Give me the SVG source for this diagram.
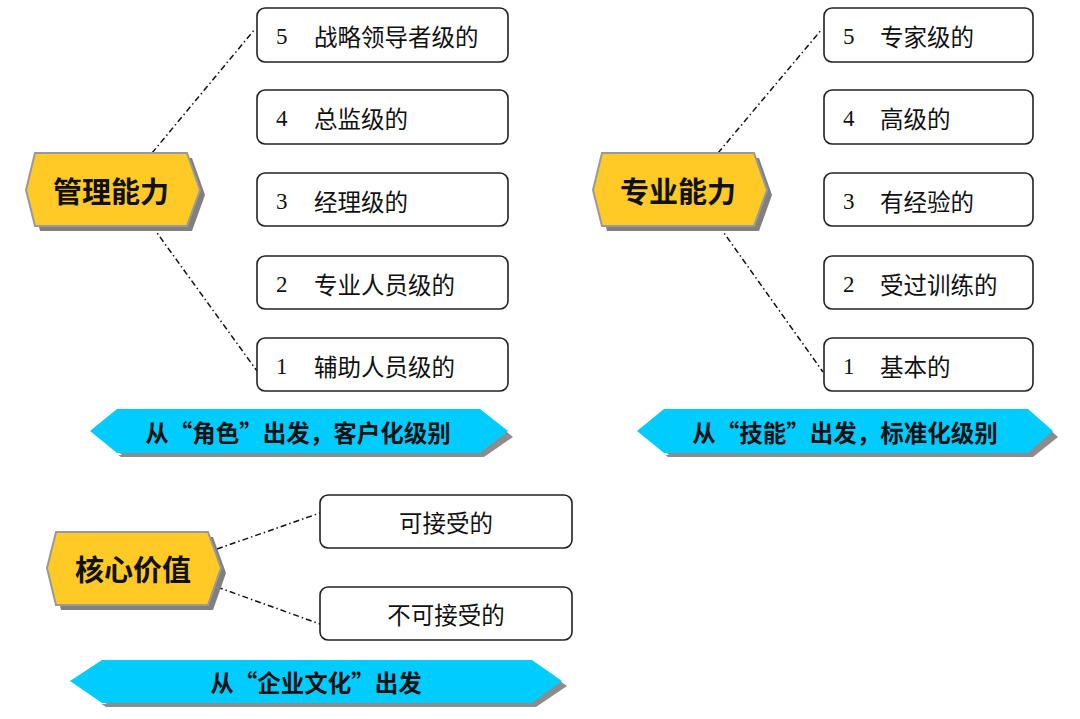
<svg xmlns="http://www.w3.org/2000/svg" width="1080" height="719" viewBox="0 0 1080 719">
<style>
.hex{fill:#FFC926;stroke:#999999;stroke-width:2}
.hexsh{fill:#808080}
.ban{fill:#00CCFF}
.bansh{fill:#8C8C8C}
.banhl{fill:#FFFFFF}
.box{fill:#FFFFFF;stroke:#222222;stroke-width:1.6}
.conn{fill:none;stroke:#111111;stroke-width:1.5;stroke-dasharray:6 3 1.5 3}
.ht{font-family:"Noto Sans CJK SC","Noto Sans CJK TC",sans-serif;font-weight:bold;font-size:29px;fill:#111111;text-anchor:middle;dominant-baseline:central}
.bt{font-family:"Noto Sans CJK SC","Noto Sans CJK TC",sans-serif;font-weight:bold;font-size:23.5px;fill:#111111;text-anchor:middle;dominant-baseline:central}
.num{font-family:"Liberation Serif",serif;font-size:23px;fill:#111111;dominant-baseline:central}
.lt{font-family:"Noto Sans CJK SC","Noto Sans CJK TC",sans-serif;font-size:23.5px;fill:#111111;dominant-baseline:central}
.ct{font-family:"Noto Sans CJK SC","Noto Sans CJK TC",sans-serif;font-size:23.5px;fill:#111111;text-anchor:middle;dominant-baseline:central}
</style>
<rect width="1080" height="719" fill="#FFFFFF"/>

<g id="connectors">
<line class="conn" x1="152" y1="153" x2="255" y2="29"/>
<line class="conn" x1="152" y1="226" x2="257" y2="371"/>
<line class="conn" x1="718" y1="153" x2="822" y2="29"/>
<line class="conn" x1="719" y1="226" x2="823" y2="372"/>
<line class="conn" x1="217" y1="549" x2="320" y2="513"/>
<line class="conn" x1="217" y1="587" x2="320" y2="624"/>
</g>

<g id="node-guanli">
<polygon class="hexsh" points="31,195 40,158 192,158 205,195 192,231 40,231"/>
<polygon class="hex" points="26,190 35,153 187,153 200,190 187,226 35,226"/>
<text class="ht" x="111" y="190">管理能力</text>
</g>

<g id="node-zhuanye">
<polygon class="hexsh" points="598,195 607,158 759,158 772,195 759,231 607,231"/>
<polygon class="hex" points="593,190 602,153 754,153 767,190 754,226 602,226"/>
<text class="ht" x="678" y="190">专业能力</text>
</g>

<g id="node-hexin">
<polygon class="hexsh" points="52,573 61,537 213,537 226,573 213,610 61,610"/>
<polygon class="hex" points="47,568 56,532 208,532 221,568 208,605 56,605"/>
<text class="ht" x="133" y="568">核心价值</text>
</g>

<g id="banner-jiaose">
<polygon class="bansh" points="94,436 121,457 484,457 513,437 485,414 121,414"/>
<polygon class="banhl" points="88,433 116,455 122,455 94,433"/>
<polygon class="ban" points="90,431 117,409 480,409 508,431 480,453 117,453"/>
<text class="bt" x="298" y="432">从“角色”出发，客户化级别</text>
</g>

<g id="banner-jineng">
<polygon class="bansh" points="641,436 668,457 1033,457 1058,437 1033,414 668,414"/>
<polygon class="banhl" points="635,433 663,455 669,455 641,433"/>
<polygon class="ban" points="637,431 664,409 1028,409 1053,431 1028,453 664,453"/>
<text class="bt" x="845" y="432">从“技能”出发，标准化级别</text>
</g>

<g id="banner-wenhua">
<polygon class="bansh" points="74,685 106,707 536,707 567,686 536,664 106,664"/>
<polygon class="banhl" points="68,682 101,704 107,704 74,682"/>
<polygon class="ban" points="70,681 102,660 532,660 562,681 532,703 102,703"/>
<text class="bt" x="316" y="682">从“企业文化”出发</text>
</g>

<g id="box-l5"><rect class="box" x="257" y="8" width="251" height="54" rx="8"/><text class="num" x="276" y="36">5</text><text class="lt" x="314" y="36">战略领导者级的</text></g>
<g id="box-l4"><rect class="box" x="257" y="90" width="251" height="54" rx="8"/><text class="num" x="276" y="118">4</text><text class="lt" x="314" y="118">总监级的</text></g>
<g id="box-l3"><rect class="box" x="257" y="173" width="251" height="53" rx="8"/><text class="num" x="276" y="201">3</text><text class="lt" x="314" y="201">经理级的</text></g>
<g id="box-l2"><rect class="box" x="257" y="256" width="251" height="53" rx="8"/><text class="num" x="276" y="284">2</text><text class="lt" x="314" y="284">专业人员级的</text></g>
<g id="box-l1"><rect class="box" x="257" y="338" width="251" height="53" rx="8"/><text class="num" x="276" y="366">1</text><text class="lt" x="314" y="366">辅助人员级的</text></g>

<g id="box-r5"><rect class="box" x="824" y="8" width="209" height="54" rx="8"/><text class="num" x="843" y="36">5</text><text class="lt" x="880" y="36">专家级的</text></g>
<g id="box-r4"><rect class="box" x="824" y="90" width="209" height="54" rx="8"/><text class="num" x="843" y="118">4</text><text class="lt" x="880" y="118">高级的</text></g>
<g id="box-r3"><rect class="box" x="824" y="173" width="209" height="53" rx="8"/><text class="num" x="843" y="201">3</text><text class="lt" x="880" y="201">有经验的</text></g>
<g id="box-r2"><rect class="box" x="824" y="256" width="209" height="53" rx="8"/><text class="num" x="843" y="284">2</text><text class="lt" x="880" y="284">受过训练的</text></g>
<g id="box-r1"><rect class="box" x="824" y="338" width="209" height="53" rx="8"/><text class="num" x="843" y="366">1</text><text class="lt" x="880" y="366">基本的</text></g>

<g id="box-accept"><rect class="box" x="320" y="495" width="252" height="53" rx="8"/><text class="ct" x="446" y="522">可接受的</text></g>
<g id="box-reject"><rect class="box" x="320" y="587" width="252" height="53" rx="8"/><text class="ct" x="446" y="614">不可接受的</text></g>
</svg>
